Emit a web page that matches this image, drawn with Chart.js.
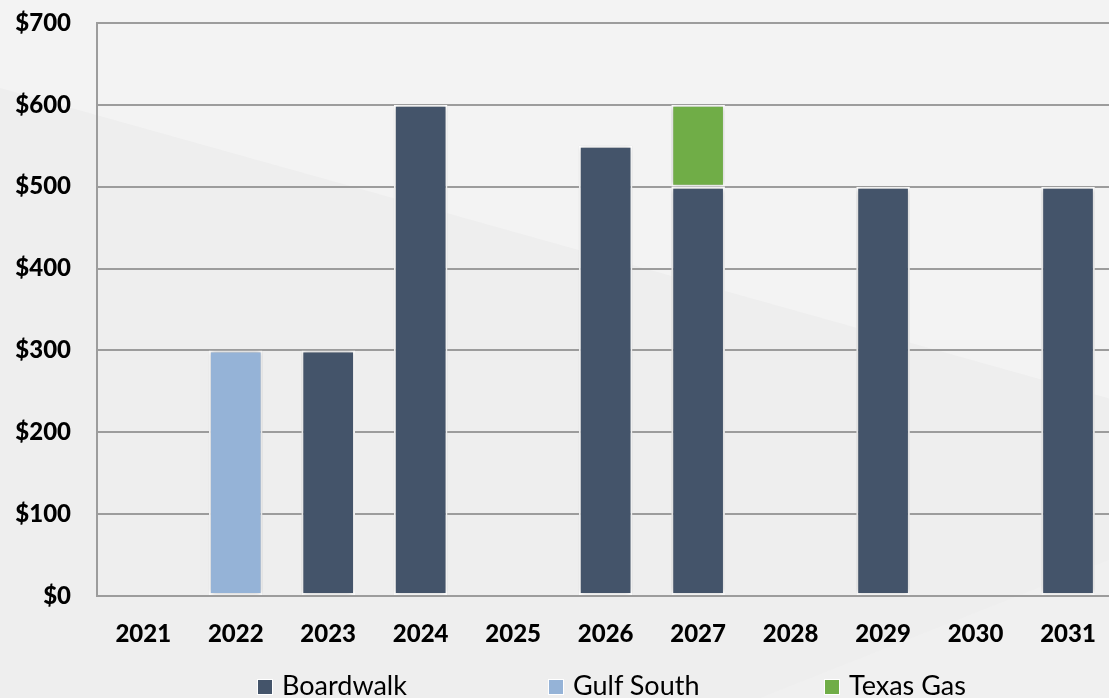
<!DOCTYPE html>
<html>
<head>
<meta charset="utf-8">
<script src="https://cdn.jsdelivr.net/npm/chart.js@4"></script>
<style>
  html, body { margin:0; padding:0; width:1109px; height:698px; overflow:hidden; background:#eeeeee; }
  #wrap { position:absolute; left:0; top:0; width:1120px; height:698px; }
  #legend { position:absolute; left:0; top:0; width:1109px; height:698px; pointer-events:none; font-family:Lato, "Open Sans", sans-serif; }
  .item { position:absolute; top:671px; font-size:27px; line-height:27px; color:#000; white-space:nowrap; }
  .box { position:absolute; top:8px; left:0; width:16px; height:16px; box-sizing:border-box; border:1px solid #ffffff; }
  .txt { position:absolute; left:25px; top:0; }
</style>
</head>
<body>
<div id="wrap"><canvas id="c" width="1120" height="698"></canvas></div>
<div id="legend"></div>
<script>
const categories = ["2021","2022","2023","2024","2025","2026","2027","2028","2029","2030","2031"];
const boardwalk  = [0, 0, 300, 600, 0, 550, 500, 0, 500, 0, 500];
const gulfSouth  = [0, 300, 0, 0, 0, 0, 0, 0, 0, 0, 0];
const texasGas   = [0, 0, 0, 0, 0, 0, 100, 0, 0, 0, 0];
const seriesNames = ["Boardwalk", "Gulf South", "Texas Gas"];
const yTicks = [0, 100, 200, 300, 400, 500, 600, 700];

const colors = ["#44546a", "#95b3d7", "#70ad47"];
const seriesData = [boardwalk, gulfSouth, texasGas];

const bgPlugin = {
  id: 'bg',
  beforeDraw(chart) {
    const ctx = chart.ctx, W = chart.width, H = chart.height;
    ctx.save();
    ctx.fillStyle = '#eeeeee';
    ctx.fillRect(0, 0, W, H);
    ctx.fillStyle = '#f3f3f3';
    ctx.beginPath();
    ctx.moveTo(0, 0);
    ctx.lineTo(W, 0);
    ctx.lineTo(W, 88 + 0.28 * W);
    ctx.lineTo(0, 88);
    ctx.closePath();
    ctx.fill();
    ctx.fillStyle = '#f0f0f0';
    ctx.beginPath();
    ctx.moveTo(760, H);
    ctx.lineTo(W, 560 - (W - 1109) * 0.4);
    ctx.lineTo(W, H);
    ctx.closePath();
    ctx.fill();
    ctx.restore();
  }
};

const shadowPlugin = {
  id: 'shadow',
  beforeDatasetsDraw(chart) {
    const ctx = chart.ctx;
    ctx.save();
    ctx.shadowColor = 'rgba(0,0,0,0.28)';
    ctx.shadowBlur = 5;
    ctx.shadowOffsetX = 0;
    ctx.shadowOffsetY = 0;
  },
  afterDatasetsDraw(chart) {
    chart.ctx.restore();
  }
};

const gridColor = '#9c9c9c';
const tickFont = { family: 'Lato, "Open Sans", sans-serif', size: 24, weight: 900 };

new Chart(document.getElementById('c'), {
  type: 'bar',
  data: {
    labels: categories,
    datasets: seriesNames.map((name, i) => ({
      label: name,
      data: seriesData[i].map(v => v === 0 ? null : v),
      backgroundColor: colors[i],
      borderColor: '#ffffff',
      borderWidth: 2,
      borderSkipped: false,
      barPercentage: 0.58,
      categoryPercentage: 1.0
    }))
  },
  options: {
    responsive: false,
    animation: false,
    devicePixelRatio: 1,
    layout: { padding: { left: 0, right: 3, top: 23, bottom: 0 } },
    plugins: {
      legend: { display: false },
      tooltip: { enabled: false }
    },
    scales: {
      x: {
        stacked: true,
        grid: { display: false, drawTicks: false },
        border: { display: true, color: gridColor, width: 2 },
        ticks: { padding: 24, color: '#000', font: tickFont, maxRotation: 0, autoSkip: false },
        afterFit(s) { s.height = 102; }
      },
      y: {
        stacked: true,
        min: 0,
        max: 700,
        afterBuildTicks(s) { s.ticks = yTicks.map(v => ({ value: v })); },
        grid: { color: gridColor, lineWidth: 2, drawTicks: false },
        border: { display: true, color: gridColor, width: 2 },
        ticks: { padding: 26, color: '#000', font: tickFont, callback: v => '$' + v },
        afterFit(s) { s.width = 97; s.paddingTop = 10; s.paddingBottom = 10; }
      }
    }
  },
  plugins: [bgPlugin, shadowPlugin]
});

const legendLefts = [257, 548, 824];
const legend = document.getElementById('legend');
seriesNames.forEach((name, i) => {
  const item = document.createElement('div');
  item.className = 'item';
  item.style.left = legendLefts[i] + 'px';
  const box = document.createElement('div');
  box.className = 'box';
  box.style.background = colors[i];
  const txt = document.createElement('span');
  txt.className = 'txt';
  txt.textContent = name;
  item.appendChild(box);
  item.appendChild(txt);
  legend.appendChild(item);
});
</script>
</body>
</html>
